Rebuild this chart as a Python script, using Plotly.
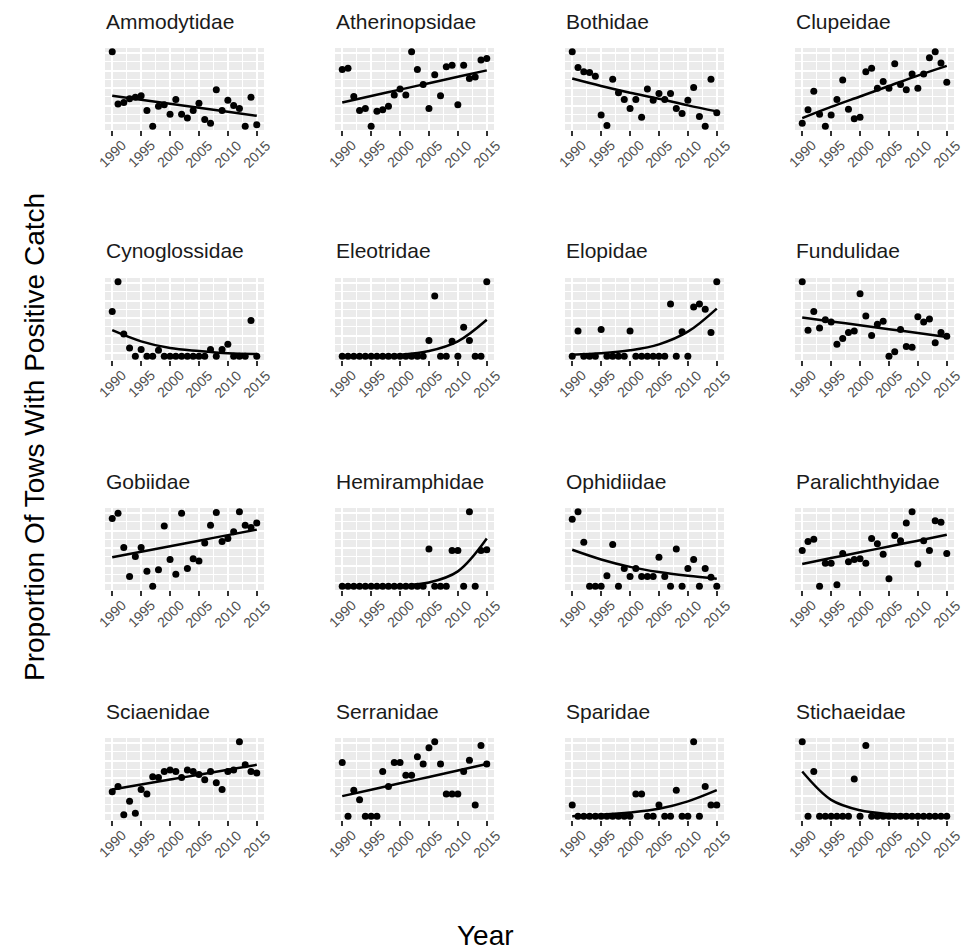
import plotly.graph_objects as go

# ---------------- data (relative positions within each free-scaled panel) ----------------
YEARS = list(range(1990, 2016))
FIT_YEARS = [1990, 1995, 2000, 2005, 2010, 2015]
FAMILIES = ["Ammodytidae", "Atherinopsidae", "Bothidae", "Clupeidae",
            "Cynoglossidae", "Eleotridae", "Elopidae", "Fundulidae",
            "Gobiidae", "Hemiramphidae", "Ophidiidae", "Paralichthyidae",
            "Sciaenidae", "Serranidae", "Sparidae", "Stichaeidae"]

ammodytidae = [1.0, .30, .32, .37, .39, .41, .21, .0, .27, .29, .16, .36, .16, .11, .21, .31, .09, .04, .49, .21, .35, .28, .24, .0, .39, .02]
ammodytidae_fit = [.41, .356, .302, .248, .194, .14]
atherinopsidae = [.76, .78, .40, .21, .24, .0, .20, .22, .27, .42, .50, .42, 1.0, .76, .56, .24, .69, .41, .80, .82, .29, .82, .64, .66, .89, .91]
atherinopsidae_fit = [.32, .406, .492, .578, .664, .75]
bothidae = [1.0, .79, .73, .72, .67, .15, .01, .63, .45, .36, .24, .36, .12, .50, .35, .44, .36, .44, .24, .17, .35, .52, .13, .0, .63, .18]
bothidae_fit = [.64, .54, .45, .37, .28, .20]
clupeidae = [.04, .22, .47, .16, .0, .15, .36, .62, .23, .10, .12, .73, .78, .51, .60, .51, .84, .56, .49, .70, .51, .70, .92, 1.0, .85, .59]
clupeidae_fit = [.11, .26, .40, .54, .68, .81]
cynoglossidae = [.60, 1.0, .30, .11, .0, .09, .0, .0, .08, .0, .0, .0, .0, .0, .0, .0, .0, .09, .0, .09, .16, .0, .0, .0, .48, .0]
cynoglossidae_fit = [.35, .20, .11, .07, .04, .03]
eleotridae = [0] * 15 + [.21, .81, .0, .0, .20, .0, .39, .21, .0, .0, 1.0]
eleotridae_fit = [.0, .005, .02, .07, .20, .49]
elopidae = [.0, .34, .0, .0, .0, .36, .0, .0, .0, .0, .34, .0, .0, .0, .0, .0, .0, .70, .0, .33, .0, .66, .70, .63, .32, 1.0]
elopidae_fit = [.02, .04, .08, .16, .33, .64]
fundulidae = [1.0, .35, .60, .38, .49, .46, .16, .24, .32, .34, .84, .54, .28, .43, .47, .0, .06, .36, .13, .12, .53, .46, .50, .18, .32, .27]
fundulidae_fit = [.52, .468, .416, .364, .312, .26]
gobiidae = [.91, .98, .52, .13, .40, .52, .20, .0, .22, .81, .36, .16, .98, .24, .37, .34, .58, .82, .99, .60, .64, .73, 1.0, .82, .79, .85]
gobiidae_fit = [.39, .464, .538, .612, .686, .76]
hemiramphidae = [0] * 15 + [.50, .0, .0, .0, .48, .48, .0, 1.0, .0, .48, .49]
hemiramphidae_fit = [.0, .003, .01, .05, .20, .64]
ophidiidae = [.90, 1.0, .59, .0, .0, .0, .14, .56, .0, .24, .13, .24, .13, .13, .13, .39, .13, .0, .50, .0, .24, .36, .0, .24, .12, .0]
ophidiidae_fit = [.49, .36, .26, .19, .14, .10]
paralichthyidae = [.48, .60, .63, .0, .31, .31, .02, .44, .33, .36, .37, .31, .64, .57, .43, .10, .68, .61, .85, 1.0, .30, .61, .48, .88, .86, .44]
paralichthyidae_fit = [.30, .378, .456, .534, .612, .69]
sciaenidae = [.33, .40, .02, .20, .04, .36, .30, .53, .52, .60, .62, .60, .52, .62, .60, .56, .49, .60, .45, .36, .60, .62, 1.0, .69, .60, .58]
sciaenidae_fit = [.36, .426, .492, .558, .624, .69]
serranidae = [.72, .0, .35, .22, .0, .0, .0, .60, .40, .72, .72, .55, .55, .80, .70, .92, 1.0, .70, .30, .30, .30, .60, .75, .15, .95, .70]
serranidae_fit = [.27, .356, .442, .528, .614, .70]
sparidae = [.15, .0, .0, .0, .0, .0, .0, .0, .0, .0, .0, .30, .30, .0, .0, .15, .0, .0, .35, .0, .0, 1.0, .0, .40, .15, .15]
sparidae_fit = [.0, .02, .05, .10, .20, .35]
stichaeidae = [1.0, .0, .60, .0, .0, .0, .0, .0, .0, .50, .0, .95, .0, .0, .0, .0, .0, .0, .0, .0, .0, .0, .0, .0, .0, .0]
stichaeidae_fit = [.60, .22, .08, .03, .01, .0]

X_TICKS = [1990, 1995, 2000, 2005, 2010, 2015]
X_TICK_LABELS = ["1990", "1995", "2000", "2005", "2010", "2015"]

series = [ammodytidae, atherinopsidae, bothidae, clupeidae,
          cynoglossidae, eleotridae, elopidae, fundulidae,
          gobiidae, hemiramphidae, ophidiidae, paralichthyidae,
          sciaenidae, serranidae, sparidae, stichaeidae]
fits = [ammodytidae_fit, atherinopsidae_fit, bothidae_fit, clupeidae_fit,
        cynoglossidae_fit, eleotridae_fit, elopidae_fit, fundulidae_fit,
        gobiidae_fit, hemiramphidae_fit, ophidiidae_fit, paralichthyidae_fit,
        sciaenidae_fit, serranidae_fit, sparidae_fit, stichaeidae_fit]

# ---------------- figure ----------------
W, H = 971, 952
FONT = "Liberation Sans, Arial, Helvetica, sans-serif"
fig = go.Figure()
layout = {}
annotations = []

for i, fam in enumerate(FAMILIES):
    r, c = divmod(i, 4)
    n = i + 1
    xname = "x" if n == 1 else f"x{n}"
    yname = "y" if n == 1 else f"y{n}"
    left, top = 105 + 230 * c, 48 + 230 * r
    right, bottom = left + 159, top + 82

    fig.add_trace(go.Scatter(x=FIT_YEARS, y=fits[i], mode="lines",
                             line=dict(color="black", width=2.5, shape="spline"),
                             xaxis=xname, yaxis=yname, showlegend=False, hoverinfo="skip"))
    fig.add_trace(go.Scatter(x=YEARS, y=series[i], mode="markers",
                             marker=dict(color="black", size=7),
                             xaxis=xname, yaxis=yname, showlegend=False))

    layout[f"xaxis{n}"] = dict(
        domain=[left / W, right / W], anchor=yname, range=[1988.75, 2016.25],
        automargin=False,
        tickmode="array", tickvals=X_TICKS, showticklabels=False,
        ticks="outside", ticklen=5, tickwidth=2, tickcolor="#333333",
        showgrid=True, gridcolor="white", gridwidth=1.6, zeroline=False, showline=False,
        minor=dict(tickmode="linear", tick0=1987.5, dtick=2.5, showgrid=True,
                   gridcolor="white", gridwidth=0.8, ticks=""),
        fixedrange=True)
    layout[f"yaxis{n}"] = dict(
        domain=[1 - bottom / H, 1 - top / H], anchor=xname, range=[-0.05, 1.05],
        automargin=False,
        tickmode="linear", tick0=0.044, dtick=0.234, showticklabels=False, ticks="",
        showgrid=True, gridcolor="white", gridwidth=1.6, zeroline=False, showline=False,
        minor=dict(tickmode="linear", tick0=0.161, dtick=0.234, showgrid=True,
                   gridcolor="white", gridwidth=0.8),
        fixedrange=True)

    # rotated tick labels centred below each tick (ggplot angle=45 style)
    for tv, tl in zip(X_TICKS, X_TICK_LABELS):
        annotations.append(dict(text=tl, xref=xname, yref="paper",
                                x=tv, y=1 - (bottom + 6) / H,
                                xanchor="center", yanchor="top", textangle=-45,
                                showarrow=False, borderpad=0,
                                font=dict(size=14, color="#4d4d4d", family=FONT)))

    annotations.append(dict(text=fam, xref="paper", yref="paper",
                            x=(left - 1) / W, y=1 - (21 + 230 * r) / H,
                            xanchor="left", yanchor="middle", showarrow=False,
                            font=dict(size=21, color="#1a1a1a", family=FONT)))

annotations.append(dict(text="Proportion Of Tows With Positive Catch", xref="paper", yref="paper",
                        x=35 / W, y=1 - 437 / H, xanchor="center", yanchor="middle",
                        textangle=-90, showarrow=False,
                        font=dict(size=28, color="black", family=FONT)))
annotations.append(dict(text="Year", xref="paper", yref="paper",
                        x=485 / W, y=1 - 935 / H, xanchor="center", yanchor="middle",
                        showarrow=False, font=dict(size=28, color="black", family=FONT)))

fig.update_layout(**layout)
fig.update_layout(
    width=W, height=H, margin=dict(l=0, r=0, t=0, b=0, autoexpand=False),
    paper_bgcolor="white", plot_bgcolor="#EBEBEB",
    annotations=annotations, showlegend=False,
    font=dict(family=FONT),
)

fig.write_html("out.html")
